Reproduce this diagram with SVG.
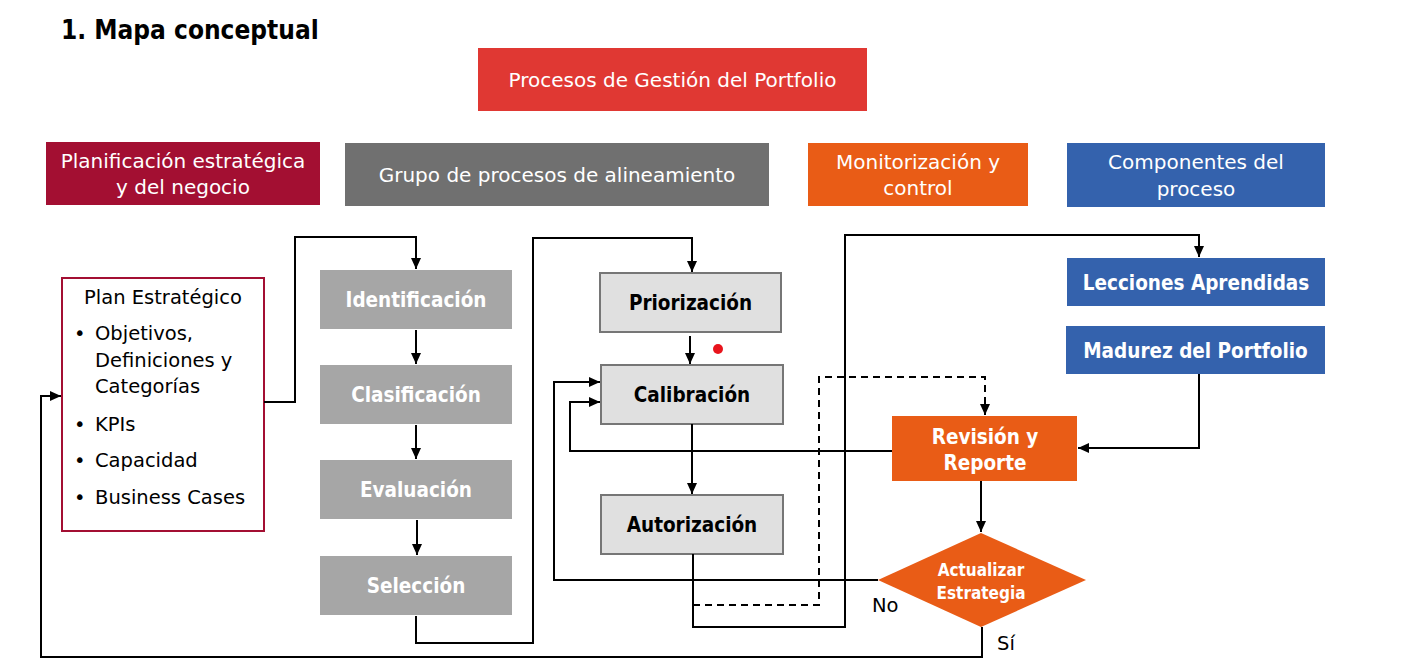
<svg xmlns="http://www.w3.org/2000/svg" width="1422" height="672" viewBox="0 0 1422 672">
<defs>
<marker id="ah" markerUnits="userSpaceOnUse" markerWidth="12" markerHeight="12" viewBox="0 0 12 12" refX="11" refY="6" orient="auto">
<path d="M0,1 L11,6 L0,11 Z" fill="#000"/>
</marker>
</defs>
<style>
text{font-family:"DejaVu Sans Condensed","DejaVu Sans",sans-serif;}
.hd{fill:#fff;font-size:20px;text-anchor:middle;font-family:"DejaVu Sans",sans-serif;}
.gb{fill:#fff;font-size:20.5px;font-weight:bold;text-anchor:middle;}
.lb{fill:#000;font-size:20.5px;font-weight:bold;text-anchor:middle;}
.pl{fill:#000;font-size:19.5px;font-family:"DejaVu Sans",sans-serif;}
.ln{fill:none;stroke:#000;stroke-width:2;}
.dash{stroke-dasharray:7,5;}
.grey{fill:#A6A6A6;}
.light{fill:#E0E0E0;stroke:#767676;stroke-width:2;}
.blue{fill:#3462AD;}
.orange{fill:#E95C16;}
</style>
<rect width="1422" height="672" fill="#fff"/>
<text x="61" y="39" style="font-size:26px;font-weight:bold;fill:#000;">1. Mapa conceptual</text>

<g id="procesos"><rect x="478" y="48" width="389" height="63" fill="#E03833"/><text class="hd" x="672.5" y="87">Procesos de Gestión del Portfolio</text></g>
<g id="planificacion"><rect x="46" y="142" width="274" height="63" fill="#A30F32"/><text class="hd" x="183" y="168">Planificación estratégica</text><text class="hd" x="183" y="194">y del negocio</text></g>
<g id="grupo"><rect x="345" y="143" width="424" height="63" fill="#707070"/><text class="hd" x="557" y="182">Grupo de procesos de alineamiento</text></g>
<g id="monitorizacion"><rect x="808" y="143" width="220" height="63" class="orange"/><text class="hd" x="918" y="169">Monitorización y</text><text class="hd" x="918" y="195">control</text></g>
<g id="componentes"><rect x="1067" y="143" width="258" height="64" class="blue"/><text class="hd" x="1196" y="169">Componentes del</text><text class="hd" x="1196" y="196">proceso</text></g>

<g id="plan">
<rect x="62" y="278" width="202" height="253" fill="#fff" stroke="#A30F32" stroke-width="2"/>
<text class="pl" x="163" y="304" text-anchor="middle">Plan Estratégico</text>
<text class="pl" x="74" y="340">•</text><text class="pl" x="95" y="340">Objetivos,</text>
<text class="pl" x="95" y="367">Definiciones y</text>
<text class="pl" x="95" y="393">Categorías</text>
<text class="pl" x="74" y="431">•</text><text class="pl" x="95" y="431">KPIs</text>
<text class="pl" x="74" y="467">•</text><text class="pl" x="95" y="467">Capacidad</text>
<text class="pl" x="74" y="504">•</text><text class="pl" x="95" y="504">Business Cases</text>
</g>

<g id="identificacion"><rect x="320" y="270" width="192" height="59" class="grey"/><text class="gb" x="416" y="307">Identificación</text></g>
<g id="clasificacion"><rect x="320" y="365" width="192" height="59" class="grey"/><text class="gb" x="416" y="402">Clasificación</text></g>
<g id="evaluacion"><rect x="320" y="460" width="192" height="59" class="grey"/><text class="gb" x="416" y="497">Evaluación</text></g>
<g id="seleccion"><rect x="320" y="556" width="192" height="59" class="grey"/><text class="gb" x="416" y="593">Selección</text></g>

<g id="priorizacion"><rect x="600" y="273" width="181" height="59" class="light"/><text class="lb" x="690.5" y="310">Priorización</text></g>
<g id="calibracion"><rect x="601" y="365" width="182" height="59" class="light"/><text class="lb" x="692" y="402">Calibración</text></g>
<g id="autorizacion"><rect x="601" y="495" width="182" height="59" class="light"/><text class="lb" x="692" y="532">Autorización</text></g>
<g id="dot"><circle cx="718" cy="349" r="5" fill="#E8141C"/></g>

<g id="lecciones"><rect x="1067" y="258" width="258" height="48" class="blue"/><text class="gb" x="1196" y="290">Lecciones Aprendidas</text></g>
<g id="madurez"><rect x="1066" y="326" width="259" height="48" class="blue"/><text class="gb" x="1195.5" y="358">Madurez del Portfolio</text></g>
<g id="revision"><rect x="892" y="416" width="185" height="65" class="orange"/><text class="gb" x="985" y="444">Revisión y</text><text class="gb" x="985" y="470">Reporte</text></g>
<g id="actualizar"><polygon points="981,533 1086,580 981,627 878,580" class="orange"/><text class="gb" x="981" y="576" style="font-size:17px">Actualizar</text><text class="gb" x="981" y="599" style="font-size:17px">Estrategia</text></g>

<g id="connectors">
<polyline class="ln" points="264,402 295,402 295,237 416,237 416,269" marker-end="url(#ah)"/>
<line class="ln" x1="416" y1="330" x2="416" y2="364" marker-end="url(#ah)"/>
<line class="ln" x1="416" y1="425" x2="416" y2="459" marker-end="url(#ah)"/>
<line class="ln" x1="417" y1="520" x2="417" y2="555" marker-end="url(#ah)"/>
<polyline class="ln" points="416,616 416,643 533,643 533,238 692,238 692,272" marker-end="url(#ah)"/>
<line class="ln" x1="690" y1="336" x2="690" y2="364" marker-end="url(#ah)"/>
<line class="ln" x1="692" y1="424" x2="692" y2="494" marker-end="url(#ah)"/>
<polyline class="ln" points="693,554 693,627 845,627 845,235 1199,235 1199,257" marker-end="url(#ah)"/>
<polyline class="ln dash" points="693,605 819,605 819,377 985,377 985,415" marker-end="url(#ah)"/>
<polyline class="ln" points="1199,374 1199,448 1078,448" marker-end="url(#ah)"/>
<polyline class="ln" points="892,451 570,451 570,402 600,402" marker-end="url(#ah)"/>
<polyline class="ln" points="878,580 554,580 554,382 600,382" marker-end="url(#ah)"/>
<line class="ln" x1="981" y1="481" x2="981" y2="532" marker-end="url(#ah)"/>
<polyline class="ln" points="982,627 982,657 41,657 41,396 61,396" marker-end="url(#ah)"/>
</g>
<text class="pl" x="872" y="612">No</text>
<text class="pl" x="997" y="650">Sí</text>
</svg>
